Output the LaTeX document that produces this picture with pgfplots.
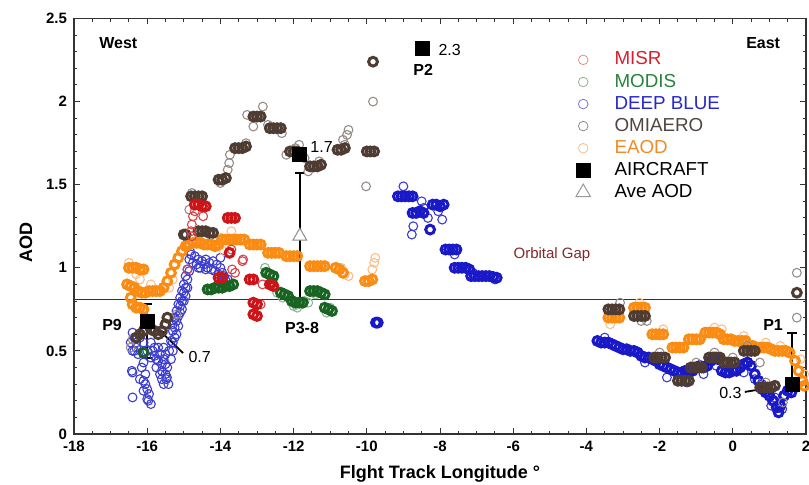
\documentclass[border=0pt]{standalone}
\usepackage{pgfplots}
\pgfplotsset{compat=1.18}
\usepackage{fontspec}
\setmainfont{Liberation Sans}
\definecolor{misr}{RGB}{205,20,25}
\definecolor{misrl}{RGB}{228,140,140}
\definecolor{modis}{RGB}{25,100,35}
\definecolor{modisl}{RGB}{140,180,150}
\definecolor{dblue}{RGB}{25,25,200}
\definecolor{dbluel}{RGB}{120,120,225}
\definecolor{omi}{RGB}{78,60,50}
\definecolor{omil}{RGB}{150,140,135}
\definecolor{eaod}{RGB}{250,140,20}
\definecolor{eaodl}{RGB}{250,190,140}
\definecolor{tmisr}{RGB}{215,30,45}
\definecolor{tmodis}{RGB}{40,130,60}
\definecolor{tdb}{RGB}{40,40,200}
\definecolor{tomi}{RGB}{80,70,65}
\definecolor{teaod}{RGB}{240,140,40}
\definecolor{gap}{RGB}{130,40,40}
\pgfplotsset{
  core/.style={only marks, mark=o, mark size=2.2pt, mark options={line width=1.5pt, draw=#1}, forget plot},
  open/.style={only marks, mark=o, mark size=2.2pt, mark options={line width=0.55pt, draw=#1}, forget plot},
}
\begin{document}
\begin{tikzpicture}
\begin{axis}[
  scale only axis, width=366pt, height=207.75pt,
  xmin=-18, xmax=2, ymin=0, ymax=2.5,
  xtick={-18,-16,...,2}, ytick={0,0.5,...,2.5},
  minor x tick num=3, minor y tick num=4,
  tick align=inside, major tick length=3pt, minor tick length=1.6pt,
  xtick pos=both, ytick pos=both,
  axis line style={black!80, line width=0.6pt},
  every tick/.style={black!80, line width=0.5pt},
  /pgf/number format/assume math mode=true,
  yticklabel style={/pgf/number format/fixed, /pgf/number format/precision=1, font=\bfseries\fontsize{7.5}{8}\selectfont},
  xticklabel style={font=\bfseries\fontsize{7.5}{8}\selectfont},
  xlabel={\textbf{Flght Track Longitude °}},
  ylabel={\textbf{AOD}},
  ylabel style={xshift=-8pt},
  label style={font=\fontsize{9}{10}\selectfont},
  legend style={at={(axis cs:-4.46,2.35)}, anchor=north west, draw=none, fill=none, font=\fontsize{9.4}{10}\selectfont, row sep=-1pt},
  legend cell align=left,
  clip=false,
]
\addlegendimage{only marks, mark=o, mark size=2.4pt, mark options={draw=misrl, line width=0.4pt}}
\addlegendentry{\hspace*{10pt}\textcolor{tmisr}{MISR}}
\addlegendimage{only marks, mark=o, mark size=2.4pt, mark options={draw=modisl, line width=0.4pt}}
\addlegendentry{\hspace*{10pt}\textcolor{tmodis}{MODIS}}
\addlegendimage{only marks, mark=o, mark size=2.4pt, mark options={draw=dbluel, line width=0.4pt}}
\addlegendentry{\hspace*{10pt}\textcolor{tdb}{DEEP BLUE}}
\addlegendimage{only marks, mark=o, mark size=2.4pt, mark options={draw=omil, line width=0.4pt}}
\addlegendentry{\hspace*{10pt}\textcolor{tomi}{OMIAERO}}
\addlegendimage{only marks, mark=o, mark size=2.4pt, mark options={draw=eaodl, line width=0.4pt}}
\addlegendentry{\hspace*{10pt}\textcolor{teaod}{EAOD}}
\addlegendimage{only marks, mark=square*, mark size=3.4pt, mark options={fill=black, draw=black}}
\addlegendentry{\hspace*{10pt}AIRCRAFT}
\addlegendimage{only marks, mark=triangle, mark size=4.2pt, mark options={draw=black!40, fill=white, line width=0.5pt}}
\addlegendentry{\hspace*{10pt}Ave AOD}

% reference line
\addplot[black!80, line width=0.8pt, forget plot] coordinates {(-18,0.81) (2,0.81)};

% DEEP BLUE
\addplot[open=dblue!85] coordinates {
(-16.4,0.61)(-16.35,0.58)(-16.3,0.55)(-16.4,0.50)(-16.3,0.52)(-16.42,0.38)(-16.4,0.37)(-16.1,0.43)(-16.1,0.32)(-16.05,0.30)(-16.0,0.27)(-16.0,0.21)(-15.97,0.20)(-15.9,0.18)(-16.4,0.22)
(-16.2,0.58)(-16.1,0.55)(-16.0,0.50)(-15.9,0.46)
(-16.45,0.55)(-16.35,0.50)(-16.25,0.48)(-16.15,0.40)(-16.05,0.36)(-16.2,0.33)(-16.1,0.26)(-15.95,0.24)
(-15.9,0.55)(-15.85,0.50)(-15.8,0.47)(-15.75,0.45)(-15.7,0.52)(-15.65,0.48)(-15.6,0.42)(-15.6,0.38)(-15.55,0.45)(-15.5,0.36)(-15.48,0.33)(-15.46,0.34)(-15.45,0.40)(-15.42,0.30)(-15.4,0.50)
(-15.8,0.52)(-15.75,0.40)(-15.7,0.44)(-15.65,0.36)(-15.6,0.33)(-15.55,0.30)(-15.5,0.42)(-15.5,0.48)(-15.55,0.52)
(-15.35,0.56)(-15.3,0.62)(-15.3,0.66)(-15.25,0.70)(-15.2,0.74)(-15.2,0.60)(-15.15,0.78)(-15.1,0.82)(-15.1,0.73)(-15.05,0.86)(-15.0,0.90)(-15.0,0.80)(-14.95,0.95)(-14.9,0.99)(-14.85,1.05)(-14.83,1.10)(-14.9,1.15)(-14.8,1.08)
(-15.35,0.45)(-15.3,0.50)(-15.3,0.55)(-15.25,0.58)(-15.25,0.64)(-15.2,0.68)(-15.15,0.65)(-15.15,0.71)(-15.1,0.77)(-15.05,0.80)(-15.05,0.75)(-15.0,0.85)(-14.95,0.88)(-14.95,0.83)(-14.9,0.93)(-14.9,0.88)(-14.85,0.98)
(-14.7,1.07)(-14.6,1.05)(-14.5,1.04)(-14.4,1.05)(-14.3,1.03)(-14.2,1.04)(-14.1,1.02)(-14.0,1.0)(-13.95,0.97)(-13.9,0.95)(-13.85,0.92)(-13.8,0.93)(-14.6,1.0)(-14.4,0.99)(-14.0,1.06)
(-14.75,1.03)(-14.65,1.02)(-14.55,1.0)(-14.45,1.02)(-14.35,1.0)(-14.25,0.99)(-14.15,0.98)(-14.05,0.96)(-13.95,0.94)(-13.9,0.91)
(-9.0,1.49)(-8.5,1.40)(-8.73,1.25)(-8.77,1.20)(-8.33,1.30)(-7.94,1.29)(-8.05,1.34)(-8.45,1.36)(-7.6,1.08)(-7.1,0.97)(-6.5,0.93)
(-3.5,0.58)(-2.4,0.43)(-1.8,0.34)(-1.25,0.31)(-1.5,0.33)(-0.8,0.36)(0.6,0.33)(0.8,0.30)(1.05,0.17)(1.15,0.22)(1.35,0.15)(0.3,0.37)(-0.45,0.41)
};
\addplot[core=dblue] coordinates {
(-9.75,0.67)(-9.7,0.67)
(-9.15,1.43)(-9.05,1.43)(-8.95,1.43)(-8.85,1.43)(-8.75,1.43)
(-8.75,1.33)(-8.65,1.33)(-8.55,1.34)(-8.45,1.33)
(-8.2,1.38)(-8.1,1.38)(-8.0,1.37)(-7.9,1.38)(-8.27,1.23)
(-7.85,1.11)(-7.75,1.11)(-7.65,1.11)(-7.55,1.11)
(-7.6,1.0)(-7.5,1.0)(-7.4,1.0)(-7.3,1.0)(-7.2,0.99)
(-7.15,0.95)(-7.05,0.95)(-6.95,0.95)(-6.85,0.95)(-6.75,0.95)(-6.65,0.95)(-6.55,0.945)(-6.45,0.94)
(-3.7,0.56)(-3.6,0.55)(-3.5,0.55)(-3.4,0.55)(-3.3,0.54)(-3.2,0.53)(-3.1,0.52)
(-3.0,0.51)(-2.9,0.51)(-2.8,0.50)(-2.7,0.50)(-2.6,0.49)
(-2.5,0.47)(-2.4,0.46)(-2.3,0.46)(-2.2,0.45)(-2.1,0.44)
(-2.0,0.42)(-1.9,0.41)(-1.8,0.40)(-1.7,0.39)(-1.6,0.38)(-1.5,0.37)
(-1.4,0.37)(-1.3,0.38)(-1.2,0.38)(-1.1,0.38)(-1.0,0.40)
(-0.9,0.41)(-0.8,0.40)(-0.7,0.41)(-0.6,0.44)(-0.5,0.46)(-0.4,0.45)
(-0.3,0.38)(-0.2,0.37)(-0.1,0.37)(0.0,0.38)(0.1,0.38)(0.2,0.40)
(0.3,0.42)(0.4,0.43)(0.5,0.41)(0.6,0.36)(0.7,0.32)
(0.8,0.27)(0.9,0.25)(1.0,0.23)(1.1,0.20)(1.2,0.16)(1.25,0.13)(1.3,0.17)(1.4,0.23)(1.5,0.26)(1.6,0.25)
};

% EAOD
\addplot[open=eaodl] coordinates {
(-16.5,1.03)(-16.3,0.96)(-16.2,0.93)(-15.9,0.90)(-15.4,0.88)(-15.3,0.93)(-14.6,1.18)(-14.0,1.18)(-13.7,1.22)(-13.9,1.10)(-10.7,1.0)(-10.6,0.96)(-10.5,0.95)(-9.85,0.99)(-9.77,1.06)(-9.8,1.03)
(-3.35,0.66)(-2.55,0.79)(-1.9,0.63)(-0.5,0.64)(-0.3,0.63)(0.3,0.59)(0.9,0.55)(1.3,0.53)(1.85,0.45)(1.95,0.36)
};
\addplot[core=eaod] coordinates {
(-16.5,1.0)(-16.4,1.0)(-16.3,1.0)(-16.2,0.99)(-16.1,0.99)
(-16.55,0.90)(-16.45,0.89)(-16.35,0.88)(-16.25,0.86)(-16.15,0.85)(-16.05,0.85)(-15.95,0.86)(-15.85,0.86)(-15.75,0.86)(-15.65,0.86)(-15.55,0.88)(-15.45,0.92)
(-16.45,0.82)(-16.4,0.78)(-16.3,0.76)(-16.2,0.76)(-16.1,0.75)
(-15.35,0.97)(-15.25,1.02)(-15.15,1.06)(-15.05,1.10)
(-14.95,1.13)(-14.85,1.14)(-14.75,1.15)(-14.65,1.15)(-14.55,1.15)(-14.45,1.14)(-14.35,1.14)(-14.25,1.14)(-14.15,1.13)(-14.05,1.14)
(-13.95,1.17)(-13.85,1.17)(-13.75,1.17)(-13.65,1.17)(-13.55,1.17)(-13.45,1.17)(-13.35,1.17)
(-13.2,1.14)(-13.1,1.14)(-13.0,1.14)(-12.9,1.14)
(-12.7,1.09)(-12.6,1.09)(-12.5,1.09)(-12.4,1.09)
(-12.2,1.07)(-12.1,1.07)(-12.0,1.07)(-11.9,1.07)
(-11.55,1.01)(-11.45,1.01)(-11.35,1.01)(-11.25,1.01)(-11.15,1.01)
(-10.85,1.0)(-10.75,0.99)(-10.65,0.97)
(-10.05,0.92)(-9.95,0.92)(-9.85,0.93)
(-3.4,0.70)(-3.3,0.70)(-3.2,0.70)(-3.1,0.70)
(-2.7,0.76)(-2.6,0.76)(-2.5,0.76)(-2.4,0.76)
(-2.2,0.60)(-2.1,0.60)(-2.0,0.60)(-1.9,0.60)
(-1.65,0.52)(-1.55,0.52)(-1.45,0.52)(-1.35,0.52)
(-1.2,0.57)(-1.1,0.57)(-1.0,0.57)(-0.9,0.57)
(-0.75,0.61)(-0.65,0.61)(-0.55,0.61)(-0.45,0.61)(-0.35,0.60)
(-0.25,0.57)(-0.15,0.57)(-0.05,0.57)(0.05,0.56)(0.15,0.56)(0.25,0.56)(0.35,0.56)
(0.45,0.53)(0.55,0.53)(0.65,0.52)(0.75,0.52)(0.85,0.52)(0.95,0.52)(1.05,0.51)
(1.15,0.50)(1.25,0.50)(1.35,0.50)(1.45,0.50)(1.55,0.49)
(1.7,0.44)(1.8,0.38)(1.9,0.32)(1.95,0.29)
};

% OMIAERO
\addplot[open=omil] coordinates {
(-12.84,1.97)(-13.27,1.92)(-13.1,1.85)(-12.32,1.81)(-12.7,1.86)(-13.74,1.68)(-13.76,1.63)(-13.8,1.59)(-13.3,1.75)(-14.0,1.51)(-12.2,1.68)(-11.85,1.74)(-11.6,1.58)(-11.3,1.64)(-10.65,1.77)(-10.54,1.80)(-10.5,1.83)(-10.6,1.74)(-9.83,2.0)(-10.02,1.49)(-14.78,1.45)(-14.85,1.35)(-15.2,0.72)(-16.4,0.57)(-16.45,0.52)(-11.95,1.72)(-11.7,1.66)
(-3.08,0.79)(-2.5,0.68)(-2.35,0.68)(-0.5,0.49)(0.4,0.53)(0.74,0.43)(1.37,0.19)(1.75,0.97)(1.75,0.70)(-1.0,0.43)(0.0,0.46)(-2.0,0.49)(0.9,0.31)
};
\addplot[core=omi] coordinates {
(-14.8,1.43)(-14.7,1.43)(-14.6,1.43)(-14.5,1.43)
(-14.6,1.22)(-14.5,1.22)(-14.4,1.22)(-14.3,1.21)(-14.2,1.21)
(-15.0,1.20)(-14.95,1.20)
(-14.05,1.53)(-13.95,1.53)(-13.85,1.54)
(-13.6,1.72)(-13.5,1.72)(-13.4,1.72)(-13.3,1.73)
(-13.1,1.91)(-13.0,1.91)(-12.9,1.91)
(-12.65,1.84)(-12.55,1.84)(-12.45,1.84)(-12.35,1.84)
(-12.1,1.70)(-12.0,1.70)(-11.9,1.70)
(-11.55,1.61)(-11.45,1.61)(-11.35,1.61)(-11.25,1.62)
(-10.8,1.71)(-10.7,1.71)(-10.6,1.72)
(-10.0,1.70)(-9.9,1.70)(-9.8,1.70)
(-9.83,2.24)
(-16.3,0.58)(-16.2,0.60)(-16.1,0.62)(-15.9,0.63)(-15.8,0.62)(-15.7,0.60)(-15.6,0.62)(-15.5,0.66)(-15.45,0.70)
(-3.4,0.75)(-3.3,0.75)(-3.2,0.75)(-3.1,0.75)
(-2.7,0.71)(-2.6,0.71)(-2.5,0.71)(-2.4,0.71)
(-2.15,0.46)(-2.05,0.46)(-1.95,0.46)(-1.85,0.46)
(-1.5,0.32)(-1.4,0.32)(-1.3,0.32)(-1.2,0.32)
(-1.15,0.40)(-1.05,0.40)(-0.95,0.40)(-0.85,0.40)
(-0.65,0.46)(-0.55,0.46)(-0.45,0.46)(-0.35,0.46)
(-0.25,0.43)(-0.15,0.43)(-0.05,0.43)(0.05,0.43)
(0.3,0.50)(0.4,0.50)(0.5,0.50)(0.6,0.50)
(0.75,0.28)(0.85,0.28)(0.95,0.28)(1.05,0.28)(1.15,0.29)
(1.75,0.85)
};

% MODIS
\addplot[open=modisl] coordinates {
(-12.78,1.0)(-12.45,0.85)(-12.0,0.77)(-11.7,0.80)(-11.6,0.79)(-11.4,0.84)(-11.1,0.73)(-11.0,0.76)(-12.3,0.82)(-11.9,0.76)
};
\addplot[core=modis] coordinates {
(-14.35,0.87)(-14.25,0.87)(-14.15,0.88)(-14.05,0.88)(-13.95,0.88)(-13.85,0.89)(-13.75,0.89)(-13.65,0.90)
(-12.75,0.97)(-12.65,0.96)(-12.55,0.95)(-12.6,0.91)
(-12.35,0.85)(-12.25,0.84)(-12.15,0.83)
(-12.05,0.80)(-11.95,0.79)(-11.85,0.79)(-11.75,0.79)
(-11.55,0.86)(-11.45,0.86)(-11.35,0.86)(-11.25,0.85)(-11.15,0.84)
(-11.15,0.76)(-11.05,0.75)(-10.95,0.74)
(-16.1,0.49)
};

% MISR
\addplot[open=misr!80] coordinates {
(-14.75,1.31)(-14.78,1.26)(-14.8,1.22)(-14.7,1.34)(-14.9,0.99)(-13.4,1.04)(-13.38,1.05)(-13.7,1.11)(-12.9,0.78)(-12.85,0.9)(-13.6,0.97)(-13.68,0.99)(-14.47,1.31)(-14.78,1.19)
};
\addplot[core=misr] coordinates {
(-14.7,1.38)(-14.6,1.38)(-14.5,1.37)(-14.4,1.37)
(-13.8,1.30)(-13.7,1.30)(-13.6,1.30)
(-13.75,1.09)
(-14.05,0.94)(-13.95,0.94)(-13.2,0.93)(-13.1,0.93)(-12.65,0.90)(-12.55,0.89)
(-13.1,0.79)(-13.0,0.78)(-13.1,0.72)(-13.0,0.71)
};

% error bars (Ave AOD +- spread)
\addplot[only marks, mark=*, mark size=0.5pt, mark options={draw opacity=0, fill opacity=0}, forget plot,
  error bars/.cd, y dir=both, y explicit,
  error bar style={line width=1pt, black, draw opacity=1},
  error mark options={rotate=90, mark size=2.5pt, line width=1pt, black, draw opacity=1}]
coordinates {(-11.83,1.19) +- (0,0.38) (-16.0,0.62) +- (0,0.16) (1.62,0.45) +- (0,0.16)};

% AIRCRAFT
\addplot[only marks, mark=square*, mark size=3.5pt, mark options={fill=black, draw=black}, forget plot]
coordinates {(-8.49,2.32) (-11.83,1.68) (-16.0,0.675) (1.62,0.30)};

% Ave AOD
\addplot[only marks, mark=triangle*, mark size=4pt, mark options={draw=black!45, fill=white, line width=0.5pt}, forget plot]
coordinates {(-11.83,1.19)};

% annotations
\node[anchor=west, font=\bfseries\fontsize{8}{9}\selectfont] at (axis cs:-17.5,2.35) {West};
\node[font=\bfseries\fontsize{8}{9}\selectfont] at (axis cs:0.83,2.35) {East};
\node[font=\bfseries\fontsize{8}{9}\selectfont] at (axis cs:-8.46,2.19) {P2};
\node[anchor=west, font=\fontsize{8}{9}\selectfont, inner sep=0pt] at (axis cs:-8.05,2.31) {2.3};
\node[anchor=west, font=\fontsize{8}{9}\selectfont, inner sep=0pt] at (axis cs:-11.55,1.727) {1.7};
\node[font=\bfseries\fontsize{8}{9}\selectfont] at (axis cs:-11.77,0.638) {P3-8};
\node[font=\bfseries\fontsize{8}{9}\selectfont] at (axis cs:-16.96,0.656) {P9};
\node[font=\bfseries\fontsize{8}{9}\selectfont] at (axis cs:1.1,0.656) {P1};
\node[anchor=west, font=\fontsize{7.5}{9}\selectfont, text=gap, inner sep=0pt] at (axis cs:-6.0,1.077) {Orbital Gap};
\node[anchor=west, font=\fontsize{8}{9}\selectfont, inner sep=0pt] at (axis cs:-14.88,0.465) {0.7};
\draw[-latex, line width=0.9pt] (axis cs:-15.02,0.487) -- (axis cs:-15.73,0.638);
\node[anchor=east, font=\fontsize{8}{9}\selectfont, inner sep=0pt] at (axis cs:0.25,0.247) {0.3};
\draw[-latex, line width=0.9pt] (axis cs:0.33,0.253) -- (axis cs:1.05,0.28);
\end{axis}
\pgfresetboundingbox
\path[use as bounding box] ([xshift=-37pt,yshift=-25.5pt]current axis.south west) rectangle ([xshift=1.5pt,yshift=9.25pt]current axis.north east);
\end{tikzpicture}
\end{document}
